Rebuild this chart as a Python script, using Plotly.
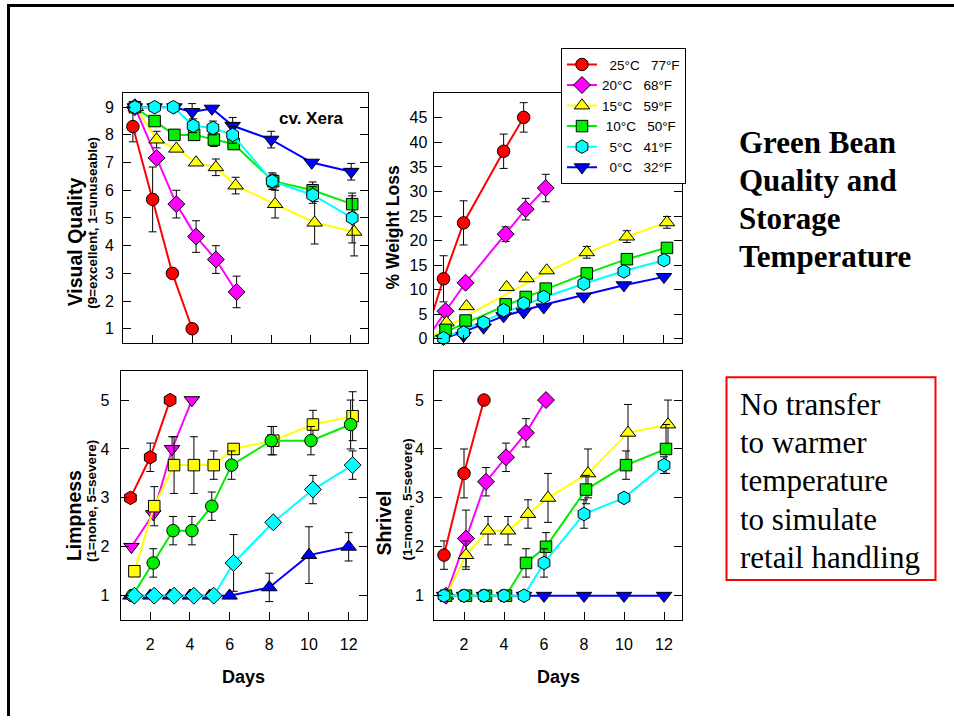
import plotly.graph_objects as go

W, H = 954, 721

# ---------------- data ----------------
NAMES = ["\u00a0\u00a025°C\u00a0\u00a0\u00a077°F", "20°C\u00a0\u00a0\u00a068°F", "15°C\u00a0\u00a0\u00a059°F",
         "\u00a010°C\u00a0\u00a0\u00a050°F", "\u00a0\u00a05°C\u00a0\u00a0\u00a041°F", "\u00a0\u00a00°C\u00a0\u00a0\u00a032°F"]
COLORS = ["#ff0000", "#ff00ff", "#ffff00", "#00ee00", "#00ffff", "#0000ff"]
SYMBOLS = ["circle", "diamond", "triangle-up", "square", "hexagon", "triangle-down"]
SYMBOLS_LIMP = ["hexagon", "triangle-down", "square", "circle", "diamond", "triangle-up"]

DAY_TICKS = [2, 4, 6, 8, 10, 12]

# Visual quality (top-left)
VQ_X = [[1.0, 2.0, 3.0, 4.0],
        [1.1, 2.2, 3.2, 4.2, 5.2, 6.25],
        [1.15, 2.2, 3.2, 4.2, 5.2, 6.2, 8.2, 10.2, 12.2],
        [1.1, 2.1, 3.1, 4.1, 5.1, 6.1, 8.1, 10.1, 12.1],
        [1.1, 2.1, 3.05, 4.05, 5.05, 6.05, 8.05, 10.1, 12.1],
        [1.1, 2.1, 3.1, 4.0, 5.0, 6.05, 8.0, 10.05, 12.05]]
VQ_Y = [[8.3, 5.67, 3.0, 1.0],
        [9.0, 7.17, 5.5, 4.33, 3.5, 2.33],
        [9.0, 7.83, 7.5, 7.0, 6.83, 6.17, 5.5, 4.83, 4.5],
        [9.0, 8.5, 8.0, 8.0, 7.83, 7.67, 6.33, 6.0, 5.5],
        [9.0, 9.0, 9.0, 8.33, 8.25, 8.0, 6.33, 5.83, 5.0],
        [9.0, 9.0, 9.0, 8.83, 8.95, 8.33, 7.83, 7.0, 6.67]]
VQ_E = [[0.55, 1.17, None, None],
        [None, None, 0.5, 0.57, 0.5, 0.57],
        [None, 0.3, None, None, 0.3, 0.3, 0.5, 0.77, 0.87],
        [None, None, None, 0.2, 0.25, 0.2, 0.25, 0.3, 0.3],
        [None, None, None, 0.25, 0.25, 0.3, 0.3, 0.3, 0.9],
        [None, None, None, 0.3, None, 0.3, 0.3, None, 0.3]]

# % weight loss (top-right): measured points
WL_X = [[1.0, 2.0, 4.0, 5.0],
        [1.1, 2.1, 4.1, 5.1, 6.1],
        [1.15, 2.15, 4.15, 5.15, 6.15, 8.15, 10.15, 12.15],
        [1.1, 2.1, 4.1, 5.1, 6.1, 8.15, 10.15, 12.15],
        [1.0, 2.0, 3.0, 4.0, 5.0, 6.0, 8.0, 10.0, 12.0],
        [1.0, 2.0, 3.0, 4.0, 5.0, 6.0, 8.0, 10.0, 12.0]]
WL_Y = [[12.2, 23.6, 38.2, 45.1],
        [5.6, 11.4, 21.3, 26.4, 30.7],
        [3.3, 6.6, 10.5, 12.3, 13.9, 17.6, 20.8, 23.7],
        [1.8, 3.7, 7.0, 8.5, 10.2, 13.3, 16.2, 18.5],
        [0.1, 1.25, 3.3, 5.8, 7.2, 8.5, 11.2, 13.7, 16.0],
        [0.0, 0.6, 2.3, 4.6, 5.4, 6.4, 8.6, 10.9, 12.6]]
WL_E = [[4.7, 4.5, 3.5, 3.0],
        [None, None, 1.5, 2.2, 2.8],
        [None, None, None, None, None, 1.2, 1.2, 1.2],
        [None, None, None, None, None, None, None, None],
        [None, None, None, None, None, None, None, None, None],
        [None, None, None, None, None, None, None, None, None]]
# % weight loss: fitted curves as drawn
WL_FIT_X = [[0.5, 1.0, 2.0, 4.0, 5.0],
            [0.5, 1.1, 2.1, 4.1, 5.1, 6.1],
            [0.5, 2.0, 4.0, 6.0, 8.0, 10.0, 12.15],
            [0.5, 2.0, 4.0, 6.0, 8.0, 10.0, 12.15],
            [1.0, 2.0, 4.0, 6.0, 8.0, 10.0, 12.0],
            [1.0, 2.0, 4.0, 6.0, 8.0, 10.0, 12.0]]
WL_FIT_Y = [[5.8, 12.2, 23.6, 38.2, 45.1],
            [1.9, 5.6, 11.4, 21.3, 26.4, 30.7],
            [0.7, 4.3, 8.8, 13.2, 17.2, 20.6, 23.7],
            [0.3, 3.0, 6.6, 9.9, 13.1, 16.0, 18.6],
            [0.1, 1.8, 5.3, 8.4, 11.2, 13.8, 16.0],
            [0.0, 1.4, 4.6, 6.9, 8.9, 10.9, 12.6]]

# Limpness (bottom-left)
LP_X = [[1.0, 2.0, 3.0],
        [1.05, 2.15, 3.1, 4.1],
        [1.2, 2.2, 3.2, 4.2, 5.2, 6.2, 8.2, 10.2, 12.2],
        [1.1, 2.15, 3.15, 4.1, 5.1, 6.1, 8.1, 10.1, 12.1],
        [1.2, 2.2, 3.2, 4.2, 5.2, 6.2, 8.2, 10.2, 12.2],
        [1.0, 2.0, 3.0, 4.0, 5.0, 6.0, 8.0, 10.0, 12.0]]
LP_Y = [[3.0, 3.83, 5.0],
        [2.0, 2.67, 4.0, 5.0],
        [1.5, 2.83, 3.67, 3.67, 3.67, 4.0, 4.17, 4.5, 4.67],
        [1.0, 1.67, 2.33, 2.33, 2.83, 3.67, 4.17, 4.17, 4.5],
        [1.0, 1.0, 1.0, 1.0, 1.0, 1.67, 2.5, 3.17, 3.67],
        [1.0, 1.0, 1.0, 1.0, 1.0, 1.0, 1.17, 1.83, 2.0]]
LP_E = [[None, 0.29, None],
        [None, None, 0.25, None],
        [None, 0.4, 0.58, 0.58, 0.29, None, 0.29, 0.29, 0.5],
        [None, 0.29, 0.29, 0.29, 0.29, 0.29, 0.29, 0.29, 0.5],
        [None, None, None, None, None, 0.58, None, 0.29, 0.29],
        [None, None, None, None, None, None, 0.29, 0.58, 0.29]]

# Shrivel (bottom-right)
SH_X = [[1.0, 2.0, 3.0],
        [1.1, 2.1, 3.1, 4.1, 5.1, 6.1],
        [1.1, 2.1, 3.2, 4.2, 5.2, 6.2, 8.2, 10.2, 12.2],
        [1.1, 2.1, 3.1, 4.1, 5.1, 6.1, 8.1, 10.1, 12.1],
        [1.0, 2.0, 3.0, 4.0, 5.0, 6.0, 8.0, 10.0, 12.0],
        [1.0, 2.0, 3.0, 4.0, 5.0, 6.0, 8.0, 10.0, 12.0]]
SH_Y = [[1.83, 3.5, 5.0],
        [1.0, 2.17, 3.33, 3.83, 4.33, 5.0],
        [1.0, 1.83, 2.33, 2.33, 2.67, 3.0, 3.5, 4.33, 4.5],
        [1.0, 1.0, 1.0, 1.0, 1.67, 2.0, 3.17, 3.67, 4.0],
        [1.0, 1.0, 1.0, 1.0, 1.0, 1.67, 2.67, 3.0, 3.67],
        [1.0, 1.0, 1.0, 1.0, 1.0, 1.0, 1.0, 1.0, 1.0]]
SH_E = [[0.29, 0.5, None],
        [None, 0.58, 0.29, 0.29, 0.29, None],
        [None, 0.29, 0.29, 0.29, 0.29, 0.5, 0.5, 0.58, 0.5],
        [None, None, None, None, 0.29, 0.29, 0.29, 0.29, 0.5],
        [None, None, None, None, None, 0.29, 0.29, None, 0.17],
        [None, None, None, None, None, None, None, None, None]]

TITLE_LINES = ["Green Bean", "Quality and", "Storage", "Temperature"]
NOTE_LINES = ["No transfer", "to warmer", "temperature", "to simulate", "retail handling"]

# ---------------- figure ----------------
SANS = "Liberation Sans, Arial, sans-serif"
SERIF = "Liberation Serif, Times New Roman, serif"


def fx(x):
    return x / W


def fy(y):
    return 1 - y / H


DRAW_ORDER = [5, 0, 1, 2, 3, 4]
MSIZE = {"circle": 12.5, "diamond": 13, "triangle-up": 13.5, "square": 11.5,
         "hexagon": 13.5, "triangle-down": 13.5}

fig = go.Figure()


def err(e):
    return dict(type="data", array=e, visible=True, color="black", thickness=1, width=4)


def add_panel(X, Y, E, symbols, xa, ya, legend=False, mode="lines+markers"):
    for i in DRAW_ORDER:
        fig.add_trace(go.Scatter(
            x=X[i], y=Y[i], mode=mode, name=NAMES[i],
            line=dict(color=COLORS[i], width=2),
            marker=dict(symbol=symbols[i], size=MSIZE[symbols[i]], color=COLORS[i],
                        line=dict(color="black", width=1)),
            error_y=err(E[i]), xaxis=xa, yaxis=ya,
            showlegend=legend, legendrank=i + 1, cliponaxis=False))


add_panel(VQ_X, VQ_Y, VQ_E, SYMBOLS, "x", "y", legend=True)
for i in DRAW_ORDER:
    fig.add_trace(go.Scatter(x=WL_FIT_X[i], y=WL_FIT_Y[i], mode="lines",
                             line=dict(color=COLORS[i], width=2),
                             xaxis="x2", yaxis="y2", showlegend=False))
add_panel(WL_X, WL_Y, WL_E, SYMBOLS, "x2", "y2", mode="markers")
add_panel(LP_X, LP_Y, LP_E, SYMBOLS_LIMP, "x3", "y3")
add_panel(SH_X, SH_Y, SH_E, SYMBOLS, "x4", "y4")

axis_common = dict(showline=True, linecolor="black", linewidth=1, ticks="inside",
                   ticklen=8, tickwidth=1, tickcolor="black", showgrid=False,
                   zeroline=False, tickfont=dict(family=SANS, size=16, color="black"))

xr = [0.5, 12.9]
fig.update_layout(
    width=W, height=H, margin=dict(l=0, r=0, t=0, b=0),
    paper_bgcolor="white", plot_bgcolor="white",
    showlegend=True,
    legend=dict(x=fx(561), y=fy(48.5), xanchor="left", yanchor="top",
                bgcolor="white", bordercolor="black", borderwidth=1,
                font=dict(family=SANS, size=13.5, color="black"),
                tracegroupgap=0, itemwidth=30),
    xaxis=dict(domain=[fx(123), fx(368)], range=xr, anchor="y", mirror=True,
               tickvals=DAY_TICKS, showticklabels=False, **axis_common),
    yaxis=dict(domain=[fy(345), fy(94)], range=[0.5, 9.5], anchor="x", mirror="ticks",
               tickvals=[1, 2, 3, 4, 5, 6, 7, 8, 9], ticklabelstandoff=5, **axis_common),
    xaxis2=dict(domain=[fx(433.5), fx(682)], range=xr, anchor="y2", mirror=True,
                tickvals=DAY_TICKS, showticklabels=False, **axis_common),
    yaxis2=dict(domain=[fy(345), fy(94)], range=[-0.8, 50], anchor="x2", mirror="ticks",
                tickvals=[0, 5, 10, 15, 20, 25, 30, 35, 40, 45], ticklabelstandoff=2,
                **axis_common),
    xaxis3=dict(domain=[fx(120.5), fx(366.5)], range=xr, anchor="y3", mirror=True,
                tickvals=DAY_TICKS, ticklabelstandoff=10, **axis_common),
    yaxis3=dict(domain=[fy(624.5), fy(373.3)], range=[0.5, 5.6], anchor="x3", mirror="ticks",
                tickvals=[1, 2, 3, 4, 5], ticklabelstandoff=7, **axis_common),
    xaxis4=dict(domain=[fx(434), fx(682)], range=xr, anchor="y4", mirror=True,
                tickvals=DAY_TICKS, ticklabelstandoff=10, **axis_common),
    yaxis4=dict(domain=[fy(624.5), fy(373.3)], range=[0.5, 5.6], anchor="x4", mirror="ticks",
                tickvals=[1, 2, 3, 4, 5], ticklabelstandoff=6, **axis_common),
)


def ann(text, x, y, size, xanchor="center", yanchor="middle", angle=0, family=SANS, align="center"):
    fig.add_annotation(text=text, x=fx(x), y=fy(y), xref="paper", yref="paper",
                       xanchor=xanchor, yanchor=yanchor, textangle=angle, showarrow=False,
                       align=align, font=dict(family=family, size=size, color="black"))


# axis titles
ann("<b>Visual Quality</b>", 75, 311, 19.5, yanchor="bottom", angle=-90)
ann("<b>(9=excellent, 1=unuseable)</b>", 93, 313, 13.5, yanchor="bottom", angle=-90)
ann("<b>% Weight Loss</b>", 393, 293.5, 17.5, yanchor="bottom", angle=-90)
ann("<b>Limpness</b>", 73.5, 567, 19.5, yanchor="bottom", angle=-90)
ann("<b>(1=none, 5=severe)</b>", 91.5, 568.5, 13.5, yanchor="bottom", angle=-90)
ann("<b>Shrivel</b>", 384, 562, 19.5, yanchor="bottom", angle=-90)
ann("<b>(1=none, 5=severe)</b>", 407.5, 567, 13.5, yanchor="bottom", angle=-90)
ann("<b>Days</b>", 243.5, 682, 18)
ann("<b>Days</b>", 558.5, 682, 18)
ann("<b>cv. Xera</b>", 311.5, 119.5, 17)

# right-hand texts, one annotation per line (baselines)
FS = 31
for k, line in enumerate(TITLE_LINES):
    ann("<b>" + line + "</b>", 737, 151.7 + 38.35 * k - 0.28 * FS, FS,
        xanchor="left", family=SERIF, align="left")
for k, line in enumerate(NOTE_LINES):
    ann(line, 738, 416 + 38.5 * k - 0.28 * FS, FS,
        xanchor="left", family=SERIF, align="left")

fig.add_shape(type="rect", xref="paper", yref="paper", x0=fx(726.5), x1=fx(935.5),
              y0=fy(584), y1=fy(380), line=dict(color="#ff0000", width=2))
# page frame
fig.add_shape(type="line", xref="paper", yref="paper", x0=fx(8.5), x1=fx(8.5),
              y0=0, y1=fy(5.5), line=dict(color="black", width=3))
fig.add_shape(type="line", xref="paper", yref="paper", x0=fx(7), x1=1,
              y0=fy(5.5), y1=fy(5.5), line=dict(color="black", width=3))

fig.write_html("out.html", config={"displayModeBar": False},
               post_script="document.body.style.margin='0';document.body.style.overflow='hidden';")
